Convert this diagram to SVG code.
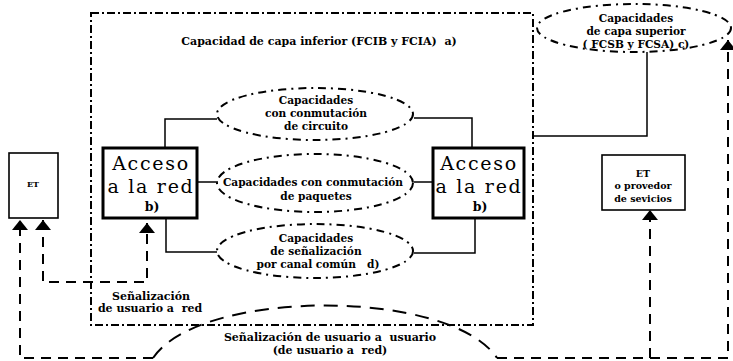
<svg xmlns="http://www.w3.org/2000/svg" width="733" height="361" viewBox="0 0 733 361">
<defs>
<marker id="ah" viewBox="0 0 10 16" refX="10" refY="8" markerWidth="10" markerHeight="16" markerUnits="userSpaceOnUse" orient="auto-start-reverse">
<path d="M0,0 L10,8 L0,16 Z" fill="#000"/>
</marker>
</defs>
<style>
.t{font-family:"DejaVu Serif",serif;font-weight:bold;font-size:11px;fill:#000;text-anchor:middle;white-space:pre}
.e{font-size:10.6px}
.big{font-family:"DejaVu Serif",serif;font-size:19px;letter-spacing:1.7px;fill:#000;text-anchor:middle}
.bb{font-family:"DejaVu Serif",serif;font-size:12.5px;font-weight:bold;fill:#000;text-anchor:middle}
.bx{fill:#fff;stroke:#000;stroke-width:3}
.sbx{fill:#fff;stroke:#000;stroke-width:1.6}
.frame{fill:none;stroke:#000;stroke-width:2;stroke-dasharray:8 3 2 3}
.ell{fill:none;stroke:#000;stroke-width:2;stroke-dasharray:8 5 2 5}
.sol{fill:none;stroke:#000;stroke-width:1.5}
.dash{fill:none;stroke:#000;stroke-width:2;stroke-dasharray:10 7}
.ldash{fill:none;stroke:#000;stroke-width:2;stroke-dasharray:14 9}
</style>
<rect width="733" height="361" fill="#fff"/>

<g id="frame-inferior">
<rect class="frame" x="91" y="13" width="442" height="312"/>
<text class="t" x="319" y="45">Capacidad de capa inferior (FCIB y FCIA)  a)</text>
</g>

<g id="connectors">
<path class="sol" d="M165,148 V119 H217"/>
<path class="sol" d="M197,182 H218"/>
<path class="sol" d="M166,218 V252 H217"/>
<path class="sol" d="M472,148 V118 H414"/>
<path class="sol" d="M433,182 H414"/>
<path class="sol" d="M475,218 V253 H414"/>
<path class="sol" d="M533,136 H647 V52"/>
<path class="dash" d="M153,358 H20 V220" marker-end="url(#ah)"/>
<path class="dash" d="M43,220 V282 H147 V223" marker-start="url(#ah)" marker-end="url(#ah)"/>
<path class="dash" d="M497,358 H728 V40" marker-end="url(#ah)"/>
<path class="dash" d="M650,358 V210" marker-end="url(#ah)"/>
<path class="ldash" d="M153,358 C200,288 450,288 497,358"/>
</g>

<g id="ell-circuito">
<ellipse class="ell" cx="315" cy="114" rx="98" ry="26"/>
<text class="t e" x="316" y="104">Capacidades</text>
<text class="t e" x="316" y="117">con conmutación</text>
<text class="t e" x="316" y="130">de circuito</text>
</g>

<g id="ell-paquetes">
<ellipse class="ell" cx="315" cy="183" rx="98" ry="29"/>
<text class="t e" x="313" y="186">Capacidades con conmutación</text>
<text class="t e" x="316" y="200">de paquetes</text>
</g>

<g id="ell-senalizacion">
<ellipse class="ell" cx="315" cy="251" rx="98" ry="27"/>
<text class="t e" x="316" y="242">Capacidades</text>
<text class="t e" x="316" y="255">de señalización</text>
<text class="t e" x="318" y="268">por canal común   d)</text>
</g>

<g id="ell-superior">
<ellipse class="ell" cx="634" cy="28" rx="97" ry="24"/>
<text class="t e" x="636" y="22">Capacidades</text>
<text class="t e" x="636" y="35">de capa superior</text>
<text class="t e" x="636" y="48">( FCSB y FCSA) c)</text>
</g>

<g id="acceso-izq">
<rect class="bx" x="103" y="148" width="94" height="70"/>
<text class="big" x="151" y="170">Acceso</text>
<text class="big" x="151" y="193">a la red</text>
<text class="bb" x="152" y="211">b)</text>
</g>

<g id="acceso-der">
<rect class="bx" x="433" y="148" width="91" height="70"/>
<text class="big" x="479" y="170">Acceso</text>
<text class="big" x="479" y="193">a la red</text>
<text class="bb" x="480" y="211">b)</text>
</g>

<g id="et-izq">
<rect class="sbx" x="9" y="153" width="49" height="65"/>
<text class="t" x="33" y="187" style="font-size:8px">ET</text>
</g>

<g id="et-der">
<rect class="sbx" x="602" y="155" width="83" height="55"/>
<text class="t" x="643" y="177" style="font-size:9.5px">ET</text>
<text class="t" x="643" y="189" style="font-size:9.5px">o provedor</text>
<text class="t" x="643" y="202" style="font-size:9.5px">de sevicios</text>
</g>

<g id="labels">
<text class="t" x="151" y="300">Señalización</text>
<text class="t" x="150" y="312">de usuario a  red</text>
<text class="t" x="330" y="341">Señalización de usuario a  usuario</text>
<text class="t" x="330" y="354">(de usuario a  red)</text>
</g>
</svg>
